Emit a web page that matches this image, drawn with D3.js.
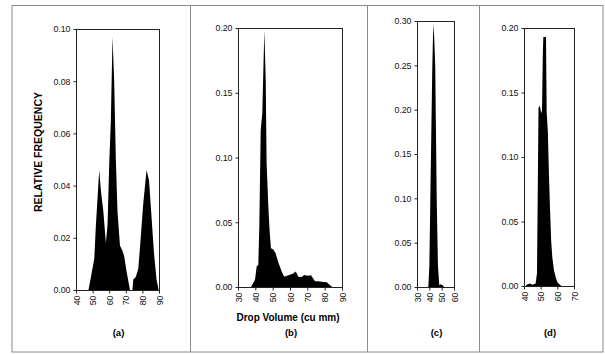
<!DOCTYPE html>
<html>
<head>
<meta charset="utf-8">
<script src="https://cdn.jsdelivr.net/npm/d3@7"></script>
<style>
  body { margin: 0; background: #fff; }
  svg { display: block; font-family: Arial, "Liberation Sans", sans-serif; }
</style>
</head>
<body>
<div id="chart"></div>
<script>
// (a) drop volume / relative frequency
const volA  = [47.5, 49, 51, 52, 54, 55, 56.5, 58, 59, 60, 61, 62, 63, 64, 65, 66.5, 68, 69, 70.5, 72.5, 74, 74.5, 76, 77.5, 79, 80.5, 82.5, 84, 85.5, 87, 88.5, 89.8];
const freqA = [0, 0.005, 0.012, 0.025, 0.046, 0.038, 0.030, 0.018, 0.025, 0.048, 0.065, 0.097, 0.080, 0.050, 0.030, 0.017, 0.015, 0.013, 0.007, 0, 0, 0.004, 0.005, 0.008, 0.020, 0.033, 0.046, 0.042, 0.028, 0.014, 0.004, 0];

// (b)
const volB  = [37.5, 39.8, 40.8, 41.7, 42.3, 43.1, 44, 45.2, 46, 46.5, 47.5, 48.3, 49, 50.4, 51.7, 53.3, 55.2, 56.7, 58.1, 60, 61.9, 63.3, 64.8, 66.7, 68.1, 70.2, 72.1, 74.4, 76.3, 79.2, 81.2, 83.1, 84.4];
const freqB = [0, 0.0056, 0.016, 0.017, 0.047, 0.121, 0.134, 0.198, 0.16, 0.096, 0.062, 0.042, 0.030, 0.029, 0.026, 0.019, 0.012, 0.008, 0.0087, 0.0095, 0.0105, 0.012, 0.008, 0.0077, 0.0093, 0.0087, 0.009, 0.0044, 0.0044, 0.0039, 0.0036, 0.0013, 0];

// (c)
const volC  = [39.2, 40.0, 40.8, 41.6, 42.4, 43.2, 44.0, 44.8, 45.4, 46.0, 47.0, 48.1, 49.2, 50.8, 52];
const freqC = [0, 0.023, 0.098, 0.173, 0.248, 0.297, 0.28, 0.248, 0.173, 0.098, 0.023, 0.002, 0.003, 0.002, 0];

// (d)
const volD  = [41, 41.5, 43.5, 45, 47, 47.8, 48.3, 48.7, 49.5, 50.3, 50.8, 51.3, 51.6, 53.2, 53.6, 54.3, 55, 55.6, 56.3, 57, 58, 59, 60, 61.5, 62.5];
const freqD = [0, 0.001, 0.002, 0.001, 0.002, 0.01, 0.08, 0.138, 0.14, 0.134, 0.136, 0.18, 0.193, 0.193, 0.135, 0.12, 0.085, 0.06, 0.035, 0.022, 0.012, 0.007, 0.003, 0.001, 0];

const xTicksA = [40, 50, 60, 70, 80, 90];
const yTicksA = [0, 0.02, 0.04, 0.06, 0.08, 0.10];
const xTicksB = [30, 40, 50, 60, 70, 80, 90];
const yTicksB = [0, 0.05, 0.10, 0.15, 0.20];
const xTicksC = [30, 40, 50, 60];
const yTicksC = [0, 0.05, 0.10, 0.15, 0.20, 0.25, 0.30];
const xTicksD = [40, 50, 60, 70];
const yTicksD = [0, 0.05, 0.10, 0.15, 0.20];

const panelLabels = ["(a)", "(b)", "(c)", "(d)"];
const yTitle = "RELATIVE FREQUENCY";
const xTitle = "Drop Volume (cu mm)";

const W = 605, H = 354;
const svg = d3.select("#chart").append("svg")
  .attr("width", W)
  .attr("height", H);

// outer frame and panel dividers
const frame = svg.append("g").attr("stroke", "#8a8a8a").attr("fill", "none");
frame.append("rect").attr("x", 12).attr("y", 5.5).attr("width", 591).attr("height", 346.5);
[190.5, 367.5, 479.5].forEach(x => {
  frame.append("line").attr("x1", x).attr("x2", x).attr("y1", 5.5).attr("y2", 352);
});

// plot boxes: [left, right, top, bottom]
const panels = [
  { vol: volA, freq: freqA, xDom: [40, 90], yDom: [0, 0.10], xt: xTicksA, yt: yTicksA, box: [76, 159, 29, 290] },
  { vol: volB, freq: freqB, xDom: [30, 90], yDom: [0, 0.20], xt: xTicksB, yt: yTicksB, box: [238, 342, 28, 287] },
  { vol: volC, freq: freqC, xDom: [30, 60], yDom: [0, 0.30], xt: xTicksC, yt: yTicksC, box: [417, 454, 21, 287] },
  { vol: volD, freq: freqD, xDom: [40, 70], yDom: [0, 0.20], xt: xTicksD, yt: yTicksD, box: [524, 574, 28, 286] }
];

panels.forEach((p, i) => {
  const [l, r, t, b] = p.box;
  const x = d3.scaleLinear().domain(p.xDom).range([l, r]);
  const y = d3.scaleLinear().domain(p.yDom).range([b, t]);
  const g = svg.append("g");

  const pts = p.vol.map((v, k) => [v, p.freq[k]]);
  const area = d3.area()
    .x(d => x(d[0]))
    .y0(y(0))
    .y1(d => y(d[1]));
  g.append("path")
    .datum(pts)
    .attr("d", area)
    .attr("fill", "#000");

  g.append("rect")
    .attr("x", l + 0.5).attr("y", t + 0.5)
    .attr("width", r - l).attr("height", b - t)
    .attr("fill", "none")
    .attr("stroke", "#222");

  const yAxis = g.append("g")
    .attr("transform", `translate(${l + 0.5},0)`)
    .call(d3.axisLeft(y).tickValues(p.yt).tickFormat(d3.format(".2f")).tickSize(3).tickPadding(3));
  yAxis.select(".domain").remove();
  yAxis.selectAll("line").attr("stroke", "#222");
  yAxis.selectAll("text").attr("font-size", 8.8).attr("fill", "#111").attr("font-family", null);

  const xAxis = g.append("g")
    .attr("transform", `translate(0,${b + 0.5})`)
    .call(d3.axisBottom(x).tickValues(p.xt).tickSize(3));
  xAxis.select(".domain").remove();
  xAxis.selectAll("line").attr("stroke", "#222");
  xAxis.selectAll("text")
    .attr("font-size", 8.8).attr("fill", "#111").attr("font-family", null)
    .attr("transform", "rotate(-90)")
    .attr("text-anchor", "end")
    .attr("x", -5).attr("y", 0).attr("dy", "0.35em");

  svg.append("text")
    .attr("x", (l + r) / 2 + 1).attr("y", 336)
    .attr("text-anchor", "middle")
    .attr("font-size", 9.5).attr("font-weight", "bold")
    .text(panelLabels[i]);
});

svg.append("text")
  .attr("transform", "translate(42,152) rotate(-90)")
  .attr("text-anchor", "middle")
  .attr("font-size", 10.5).attr("font-weight", "bold")
  .text(yTitle);

svg.append("text")
  .attr("x", 288).attr("y", 321)
  .attr("text-anchor", "middle")
  .attr("font-size", 10).attr("font-weight", "bold")
  .text(xTitle);
</script>
</body>
</html>
